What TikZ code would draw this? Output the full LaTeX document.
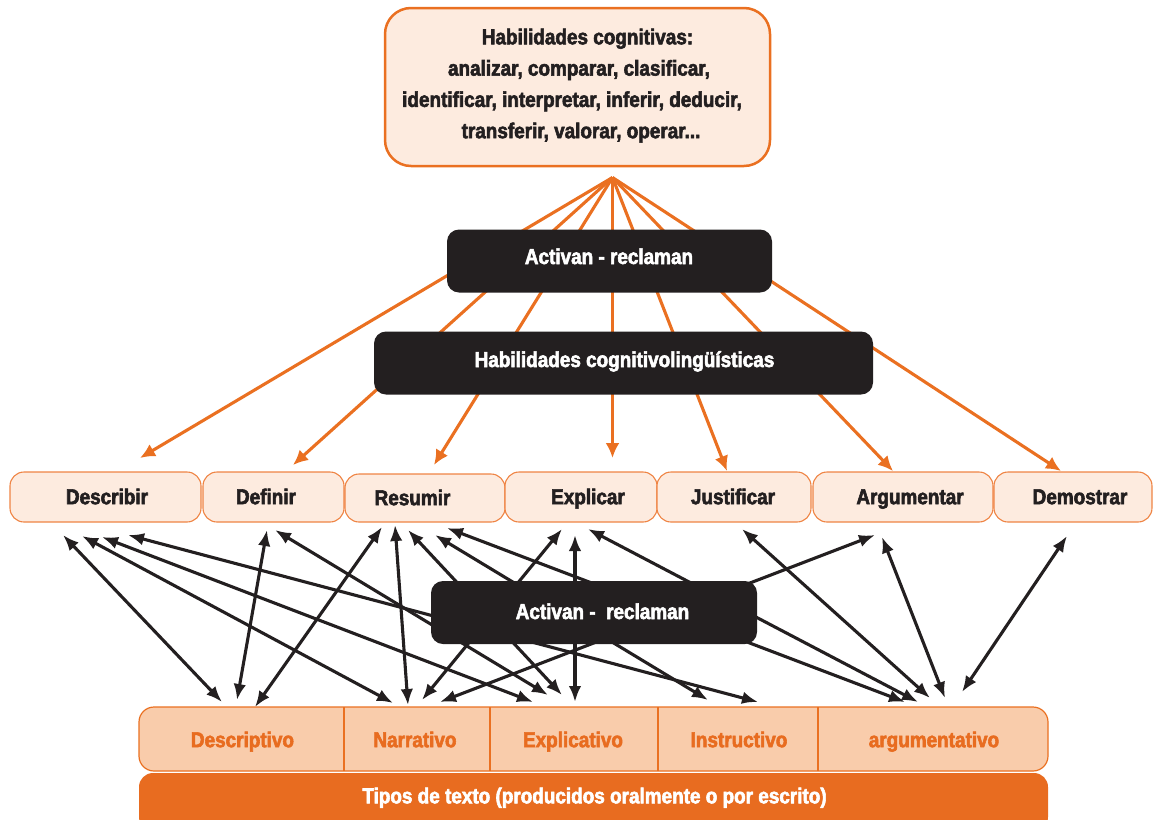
\documentclass[tikz,border=0pt]{standalone}
\usepackage{fontspec}
\setmainfont{Liberation Sans}[FakeStretch=0.88,BoldFeatures={FakeBold=2.6}]
\usetikzlibrary{arrows.meta}
\definecolor{fanorange}{RGB}{234,112,33}
\definecolor{edgeorange}{RGB}{239,132,68}
\definecolor{paleorange}{RGB}{253,235,223}
\definecolor{cellorange}{RGB}{249,204,171}
\definecolor{barorange}{RGB}{232,108,32}
\definecolor{inkblack}{RGB}{35,31,32}
\begin{document}
\begin{tikzpicture}[x=1pt,y=-1pt,
  every node/.style={inner sep=0pt,outer sep=0pt},
  txt/.style={font=\bfseries\fontsize{21.5}{26}\selectfont,text height=15.4pt,text depth=0pt,text=inkblack},
  whitetxt/.style={txt,text=white},
  orangetxt/.style={txt,text=barorange},
  topbox/.style={draw=fanorange,line width=2.5pt,fill=paleorange,rounded corners=26pt,minimum width=385pt,minimum height=158pt},
  blackbox/.style={fill=inkblack,rounded corners=12pt,minimum height=63pt},
  skillbox/.style={draw=edgeorange,line width=1.1pt,fill=paleorange,rounded corners=14pt,minimum height=50pt},
  cell/.style={minimum height=64pt},
  divider/.style={draw=fanorange,line width=1.2pt},
  fan/.style={draw=fanorange,line width=3.1pt,-{Latex[length=15pt,width=14pt]}},
  link/.style={draw=inkblack,line width=3.1pt,{Latex[length=16pt,width=12.5pt]}-{Latex[length=16pt,width=12.5pt]}}]

\useasboundingbox (0,0) rectangle (1153,819);
\clip (0,0) rectangle (1153,819);

% fan of cognitive skills towards the seven linguistic skills
\coordinate (apex) at (612.5,177.5);
\coordinate (describir-in) at (140,458);
\coordinate (definir-in) at (293,465);
\coordinate (resumir-in) at (434,465);
\coordinate (explicar-in) at (612.5,458);
\coordinate (justificar-in) at (727,471);
\coordinate (argumentar-in) at (893,471);
\coordinate (demostrar-in) at (1061,471);
\foreach \t in {describir,definir,resumir,explicar,justificar,argumentar,demostrar}
  \draw[fan] (apex) -- (\t-in);

% cognitive skills
\node[topbox] (cognitivas) at (577.5,87) {};
\node[txt] (cog-l1) at (587.5,36.6) {Habilidades cognitivas:};
\node[txt] (cog-l2) at (579,67.9) {analizar, comparar, clasificar,};
\node[txt] (cog-l3) at (572,99.2) {identificar, interpretar, inferir, deducir,};
\node[txt] (cog-l4) at (581,130.5) {transferir, valorar, operar...};

% black headers over the fan
\node[blackbox,minimum width=325pt] (activan-top) at (609.5,261) {};
\node[whitetxt] (activan-top-t) at (609,256.3) {Activan - reclaman};
\node[blackbox,minimum width=499pt] (cogling) at (623.5,363) {};
\node[whitetxt] (cogling-t) at (624.5,359.3) {Habilidades cognitivolingüísticas};

% linguistic skills row
\node[skillbox,minimum width=191pt] (describir) at (105.5,497) {};
\node[skillbox,minimum width=141pt] (definir) at (273.5,497) {};
\node[skillbox,minimum width=160pt,minimum height=48pt] (resumir) at (425,498) {};
\node[skillbox,minimum width=152pt] (explicar) at (581,497) {};
\node[skillbox,minimum width=154pt] (justificar) at (734,497) {};
\node[skillbox,minimum width=180pt] (argumentar) at (903,497) {};
\node[skillbox,minimum width=158pt] (demostrar) at (1073,497) {};
\node[txt] (describir-t) at (107,496.5) {Describir};
\node[txt] (definir-t) at (266,496.5) {Definir};
\node[txt] (resumir-t) at (412.5,497.5) {Resumir};
\node[txt] (explicar-t) at (588,496.5) {Explicar};
\node[txt] (justificar-t) at (733,496.5) {Justificar};
\node[txt] (argumentar-t) at (910,496.5) {Argumentar};
\node[txt] (demostrar-t) at (1080,496.5) {Demostrar};

% end points of the two-way links
\coordinate (describir-a) at (63,535);
\coordinate (describir-b) at (82,536);
\coordinate (describir-c) at (102,537);
\coordinate (describir-d) at (128,535);
\coordinate (definir-a) at (267,530);
\coordinate (definir-b) at (275,530);
\coordinate (resumir-a) at (382,527);
\coordinate (resumir-b) at (395,525);
\coordinate (resumir-c) at (408,530);
\coordinate (resumir-d) at (435,535);
\coordinate (resumir-e) at (447,528);
\coordinate (explicar-a) at (562,529);
\coordinate (explicar-b) at (575,535);
\coordinate (explicar-c) at (588,529);
\coordinate (justificar-a) at (742,529);
\coordinate (argumentar-a) at (875,535);
\coordinate (argumentar-b) at (882,537);
\coordinate (demostrar-a) at (1067,536);

\coordinate (descriptivo-a) at (222,702);
\coordinate (descriptivo-b) at (237,700);
\coordinate (descriptivo-c) at (255,707);
\coordinate (narrativo-a) at (393,703);
\coordinate (narrativo-b) at (408,705);
\coordinate (narrativo-c) at (422,700);
\coordinate (narrativo-d) at (440,702);
\coordinate (explicativo-a) at (533,702);
\coordinate (explicativo-b) at (548,695);
\coordinate (explicativo-c) at (562,695);
\coordinate (explicativo-d) at (575,702);
\coordinate (instructivo-a) at (708,700);
\coordinate (instructivo-b) at (758,702);
\coordinate (argumentativo-a) at (905,702);
\coordinate (argumentativo-b) at (918,702);
\coordinate (argumentativo-c) at (930,698);
\coordinate (argumentativo-d) at (945,698);
\coordinate (argumentativo-e) at (962,692);

\draw[link] (describir-a) -- (descriptivo-a);
\draw[link] (describir-b) -- (narrativo-a);
\draw[link] (describir-c) -- (explicativo-a);
\draw[link] (describir-d) -- (instructivo-b);
\draw[link] (definir-a) -- (descriptivo-b);
\draw[link] (definir-b) -- (explicativo-b);
\draw[link] (resumir-a) -- (descriptivo-c);
\draw[link] (resumir-b) -- (narrativo-b);
\draw[link] (resumir-c) -- (explicativo-c);
\draw[link] (resumir-d) -- (instructivo-a);
\draw[link] (resumir-e) -- (argumentativo-a);
\draw[link] (explicar-a) -- (narrativo-c);
\draw[link] (explicar-b) -- (explicativo-d);
\draw[link] (explicar-c) -- (argumentativo-b);
\draw[link] (justificar-a) -- (argumentativo-c);
\draw[link] (argumentar-a) -- (narrativo-d);
\draw[link] (argumentar-b) -- (argumentativo-d);
\draw[link] (demostrar-a) -- (argumentativo-e);

% black header over the links
\node[blackbox,minimum width=326pt] (activan-mid) at (594,612.5) {};
\node[whitetxt] (activan-mid-t) at (602.5,611.3) {Activan -\ \ reclaman};

% text types row
\node[draw=fanorange,line width=1.2pt,fill=cellorange,rounded corners=15pt,minimum width=909pt,minimum height=64pt] (tipos-row) at (593.5,739) {};
\node[cell,minimum width=205pt] (descriptivo) at (241.5,739) {};
\node[cell,minimum width=146pt] (narrativo) at (417,739) {};
\node[cell,minimum width=168pt] (explicativo) at (574,739) {};
\node[cell,minimum width=160pt] (instructivo) at (738,739) {};
\node[cell,minimum width=230pt] (argumentativo) at (933,739) {};
\foreach \c in {descriptivo,narrativo,explicativo,instructivo}
  \draw[divider] (\c.north east) -- (\c.south east);
\node[orangetxt] (descriptivo-t) at (242.5,739.5) {Descriptivo};
\node[orangetxt] (narrativo-t) at (415,739.5) {Narrativo};
\node[orangetxt] (explicativo-t) at (573,739.5) {Explicativo};
\node[orangetxt] (instructivo-t) at (739,739.5) {Instructivo};
\node[orangetxt] (argumentativo-t) at (934,739.5) {argumentativo};

% bottom bar
\node[fill=barorange,rounded corners=14pt,minimum width=909pt,minimum height=58pt] (tipos) at (593.5,802) {};
\node[whitetxt] (tipos-t) at (594.5,795.6) {Tipos de texto (producidos oralmente o por escrito)};
\end{tikzpicture}
\end{document}
